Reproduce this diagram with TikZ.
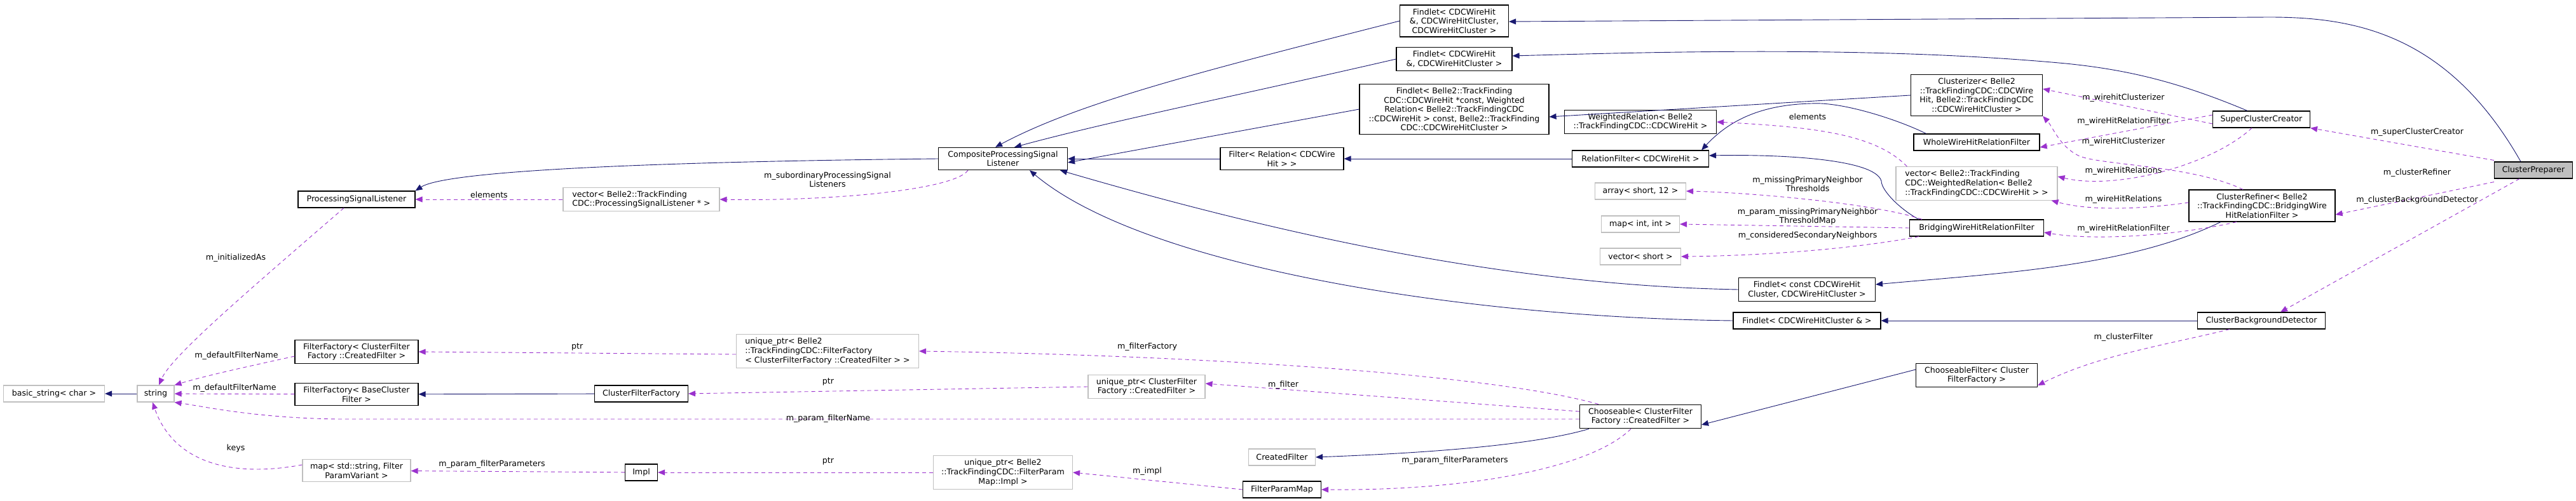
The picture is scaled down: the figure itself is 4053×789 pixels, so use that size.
\documentclass[tikz,border=0pt]{standalone}
\usepackage{fontspec}
\setmainfont{DejaVu Sans}
\usetikzlibrary{arrows.meta, positioning}
\definecolor{edgeblue}{HTML}{191970}
\definecolor{edgepurple}{HTML}{9A32CD}
\definecolor{boxgray}{HTML}{BFBFBF}
\tikzset{%
    clssty/.style={
        draw,
        line width=1.1pt,
        align=center,
        inner xsep=2pt,
        inner ysep=5.5pt,
        minimum height=26pt,
        font=\fontsize{12.6}{14.6}\selectfont,
    },
    extsty/.style={
        clssty,
        draw=boxgray,
    },
    lblsty/.style={
        align=center,
        inner sep=1pt,
        font=\fontsize{12.6}{14.6}\selectfont,
    },
    inhsty/.style={
        draw=edgeblue,
        line width=0.9pt,
        -{Triangle[length=11pt,width=9pt]},
    },
    usesty/.style={
        draw=edgepurple,
        line width=0.9pt,
        dash pattern=on 6pt off 5pt,
        -{Triangle[length=11pt,width=9pt]},
    },
}

\begin{document}
\begin{tikzpicture}[x=1pt,y=-1pt]
\useasboundingbox (0,0) rectangle (4053,789);

% classes on the left
\node (bstr) [extsty,minimum width=159pt] at (85,620) {basic\_string< char >};
\node (str) [extsty,minimum width=58pt] at (245,620) {string};
\node (psl) [clssty,minimum width=184pt] at (561,314) {ProcessingSignalListener};
\node (vpsl) [extsty,minimum width=246pt,align=left] at (1009,314) {vector< Belle2::TrackFinding\\CDC::ProcessingSignalListener * >};
\node (ffc) [clssty,minimum width=194pt] at (561,554) {FilterFactory< ClusterFilter\\Factory ::CreatedFilter >};
\node (ffb) [clssty,minimum width=194pt] at (561,621) {FilterFactory< BaseCluster\\Filter >};
\node (cff) [clssty,minimum width=147pt] at (1009,620) {ClusterFilterFactory};
\node (mapstr) [extsty,minimum width=170pt] at (561,741) {map< std::string, Filter\\ParamVariant >};
\node (impl) [clssty,minimum width=51pt] at (1009,744) {Impl};

% middle
\node (comp) [clssty,minimum width=203pt] at (1578,250) {CompositeProcessingSignal\\Listener};
\node (frel) [clssty,minimum width=194pt] at (2017,250) {Filter< Relation< CDCWire\\Hit > >};
\node (uff) [extsty,minimum width=287pt,align=left] at (1302,553) {unique\_ptr< Belle2\\::TrackFindingCDC::FilterFactory\\< ClusterFilterFactory ::CreatedFilter > >};
\node (ucf) [extsty,minimum width=184pt] at (1804,609) {unique\_ptr< ClusterFilter\\Factory ::CreatedFilter >};
\node (crf) [extsty,minimum width=105pt] at (2017,720) {CreatedFilter};
\node (uimpl) [extsty,minimum width=219pt] at (1578,744) {unique\_ptr< Belle2\\::TrackFindingCDC::FilterParam\\Map::Impl >};
\node (fpm) [clssty,minimum width=123pt] at (2017,771) {FilterParamMap};

\node (fa) [clssty,minimum width=171pt] at (2288,33) {Findlet< CDCWireHit\\\&, CDCWireHitCluster,\\CDCWireHitCluster >};
\node (fb) [clssty,minimum width=182pt] at (2288,93) {Findlet< CDCWireHit\\\&, CDCWireHitCluster >};
\node (fc) [clssty,minimum width=298pt] at (2288,172) {Findlet< Belle2::TrackFinding\\CDC::CDCWireHit *const, Weighted\\Relation< Belle2::TrackFindingCDC\\::CDCWireHit > const, Belle2::TrackFinding\\CDC::CDCWireHitCluster >};
\node (wrel) [clssty,minimum width=239pt] at (2581,192) {WeightedRelation< Belle2\\::TrackFindingCDC::CDCWireHit >};
\node (rfil) [clssty,minimum width=215pt] at (2581,250) {RelationFilter< CDCWireHit >};
\node (arr) [extsty,minimum width=143pt] at (2581,301) {array< short, 12 >};
\node (mint) [extsty,minimum width=123pt] at (2581,353) {map< int, int >};
\node (vsh) [extsty,minimum width=127pt] at (2581,404) {vector< short >};
\node (fd) [clssty,minimum width=215pt] at (2843,456) {Findlet< const CDCWireHit\\Cluster, CDCWireHitCluster >};
\node (fe) [clssty,minimum width=232pt] at (2843,505) {Findlet< CDCWireHitCluster \& >};
\node (choo) [clssty,minimum width=191pt] at (2581,656) {Chooseable< ClusterFilter\\Factory ::CreatedFilter >};

% right
\node (clz) [clssty,minimum width=207pt] at (3110,150) {Clusterizer< Belle2\\::TrackFindingCDC::CDCWire\\Hit, Belle2::TrackFindingCDC\\::CDCWireHitCluster >};
\node (wwh) [clssty,minimum width=198pt] at (3110,224) {WholeWireHitRelationFilter};
\node (vwr) [extsty,minimum width=254pt,align=left] at (3110,289) {vector< Belle2::TrackFinding\\CDC::WeightedRelation< Belle2\\::TrackFindingCDC::CDCWireHit > >};
\node (bwh) [clssty,minimum width=211pt] at (3110,359) {BridgingWireHitRelationFilter};
\node (cflt) [clssty,minimum width=191pt] at (3110,591) {ChooseableFilter< Cluster\\FilterFactory >};
\node (scc) [clssty,minimum width=153pt] at (3558,188) {SuperClusterCreator};
\node (cref) [clssty,minimum width=230pt] at (3559,324) {ClusterRefiner< Belle2\\::TrackFindingCDC::BridgingWire\\HitRelationFilter >};
\node (cbd) [clssty,minimum width=201pt] at (3558,505) {ClusterBackgroundDetector};
\node (cprep) [clssty,minimum width=123pt,fill=boxgray] at (3986,268) {ClusterPreparer};

% inheritance
\draw [inhsty] (str) -- (bstr);
\draw [inhsty] (comp.west) .. controls (1000,255) and (700,270) .. (psl.north east);
\draw [inhsty] (fa.west) .. controls (1900,110) and (1700,160) .. ([xshift=-12pt]comp.north);
\draw [inhsty] (fb.west) .. controls (1950,150) and (1750,190) .. ([xshift=18pt]comp.north);
\draw [inhsty] (fc.west) -- ([yshift=-6pt]comp.east);
\draw [inhsty] (frel) -- (comp);
\draw [inhsty] (fd.west) .. controls (2400,450) and (2050,380) .. ([xshift=-12pt]comp.south east);
\draw [inhsty] (fe.west) .. controls (2300,500) and (1800,420) .. ([xshift=42pt]comp.south);
\draw [inhsty] (rfil) -- (frel);
\draw [inhsty] ([xshift=20pt]wwh.north west) .. controls (2990,190) and (2900,160) .. (2850,163) .. controls (2770,165) and (2720,190) .. ([xshift=-12pt]rfil.north east);
\draw [inhsty] ([xshift=15pt]bwh.north west) .. controls (2990,330) and (2960,300) .. (2960,285) .. controls (2950,250) and (2800,243) .. ([yshift=5pt]rfil.east);
\draw [inhsty] ([xshift=-22pt]scc.north) .. controls (3430,130) and (3350,110) .. (3250,100) .. controls (2950,72) and (2600,82) .. ([yshift=5pt]fb.east);
\draw [inhsty] ([xshift=-20pt]cprep.north) .. controls (3850,50) and (3700,27) .. (3570,27) -- ([yshift=-1pt]fa.east);
\draw [inhsty] (clz.west) -- ([yshift=-12pt]fc.east);
\draw [inhsty] ([xshift=-65pt]cref.south) .. controls (3350,420) and (3150,430) .. ([yshift=8pt]fd.east);
\draw [inhsty] (cbd) -- (fe);
\draw [inhsty] ([yshift=9pt]cflt.west) -- ([yshift=-13pt]choo.east);
\draw [inhsty] ([xshift=15pt]choo.south west) .. controls (2400,705) and (2200,715) .. (crf.east);
\draw [inhsty] (cff) -- (ffb);

% usage
\draw [usesty] (vpsl) -- node[lblsty,above=1pt] (l1) {elements} (psl);
\draw [usesty] ([xshift=-55pt]comp.south) .. controls (1500,300) and (1300,317) .. (vpsl.east);
\node (l2) [lblsty] at (1302,283) {m\_subordinaryProcessingSignal\\Listeners};
\draw [usesty] ([xshift=-20pt]psl.south) .. controls (400,450) and (270,560) .. ([xshift=5pt]str.north);
\node (l3) [lblsty] at (371,406) {m\_initializedAs};
\draw [usesty] ([yshift=-7pt]ffc.west) .. controls (400,575) and (330,590) .. (str.north east);
\node (l4) [lblsty] at (372,560) {m\_defaultFilterName};
\draw [usesty] (ffb) -- node[lblsty,above=1pt] (l5) {m\_defaultFilterName} (str);
\draw [usesty] ([yshift=-4pt]choo.west) -- (900,660) -- (530,660) .. controls (400,658) and (320,640) .. (str.south east);
\node (l6) [lblsty] at (1303,659) {m\_param\_filterName};
\draw [usesty] ([yshift=9pt]mapstr.west) .. controls (350,755) and (270,720) .. ([xshift=-5pt]str.south);
\node (l7) [lblsty] at (371,706) {keys};
\draw [usesty] ([yshift=-5pt]uff.west) -- node[lblsty,above=2pt] (l8) {ptr} (ffc.east);
\draw [usesty] (ucf.west) -- (cff.east);
\node (l9) [lblsty] at (1303,601) {ptr};
\draw [usesty] ([xshift=30pt]choo.north west) .. controls (2350,590) and (1900,560) .. (uff.east);
\node (l10) [lblsty] at (1805,546) {m\_filterFactory};
\draw [usesty] ([yshift=8pt]choo.west) -- ([yshift=5pt]ucf.east);
\node (l11) [lblsty] at (2019,606) {m\_filter};
\draw [usesty] (impl) -- (mapstr);
\node (l12) [lblsty] at (774,731) {m\_param\_filterParameters};
\draw [usesty] (uimpl.west) -- (impl);
\node (l13) [lblsty] at (1303,726) {ptr};
\draw [usesty] (fpm.west) -- (uimpl.east);
\node (l14) [lblsty] at (1805,742) {m\_impl};
\draw [usesty] ([xshift=-15pt]choo.south) .. controls (2500,740) and (2300,773) .. (fpm.east);
\node (l15) [lblsty] at (2289,725) {m\_param\_filterParameters};
\draw [usesty] ([xshift=18pt]vwr.north west) .. controls (2950,210) and (2850,200) .. (wrel.east);
\node (l16) [lblsty] at (2844,184) {elements};
\draw [usesty] ([xshift=20pt]bwh.north west) .. controls (2950,320) and (2750,303) .. (arr.east);
\node (l17) [lblsty] at (2844,290) {m\_missingPrimaryNeighbor\\Thresholds};
\draw [usesty] (bwh.west) -- (mint.east);
\node (l18) [lblsty] at (2844,341) {m\_param\_missingPrimaryNeighbor\\ThresholdMap};
\draw [usesty] ([xshift=15pt]bwh.south west) .. controls (2900,395) and (2750,403) .. (vsh.east);
\node (l19) [lblsty] at (2844,371) {m\_consideredSecondaryNeighbors};
\draw [usesty] ([yshift=-7pt]scc.west) -- ([yshift=10pt]clz.east);
\node (l20) [lblsty] at (3341,154) {m\_wirehitClusterizer};
\draw [usesty] ([yshift=7pt]scc.west) -- ([yshift=-8pt]wwh.east);
\node (l21) [lblsty] at (3341,191) {m\_wireHitRelationFilter};
\draw [usesty] ([xshift=-15pt]scc.south) .. controls (3480,260) and (3330,300) .. ([yshift=11pt]vwr.east);
\node (l22) [lblsty] at (3341,269) {m\_wireHitRelations};
\draw [usesty] ([xshift=-30pt]cref.north) .. controls (3450,260) and (3300,260) .. (3270,245) .. controls (3240,230) and (3230,200) .. (clz.south east);
\node (l23) [lblsty] at (3341,223) {m\_wireHitClusterizer};
\draw [usesty] ([yshift=5pt]cref.west) .. controls (3350,332) and (3280,330) .. ([xshift=-10pt]vwr.south east);
\node (l24) [lblsty] at (3341,314) {m\_wireHitRelations};
\draw [usesty] ([xshift=-40pt]cref.south) .. controls (3430,370) and (3300,380) .. ([yshift=-7pt]bwh.east);
\node (l25) [lblsty] at (3341,360) {m\_wireHitRelationFilter};
\draw [usesty] ([yshift=2pt]cprep.north west) -- (scc.south east);
\node (l26) [lblsty] at (3803,208) {m\_superClusterCreator};
\draw [usesty] ([yshift=-5pt]cprep.south west) -- ([yshift=-14pt]cref.east);
\node (l27) [lblsty] at (3803,272) {m\_clusterRefiner};
\draw [usesty] ([xshift=-22pt]cprep.south) -- ([xshift=30pt]cbd.north);
\node (l28) [lblsty] at (3803,315) {m\_clusterBackgroundDetector};
\draw [usesty] ([xshift=-50pt]cbd.south) .. controls (3400,545) and (3300,560) .. ([yshift=-16pt]cflt.east);
\node (l29) [lblsty] at (3341,531) {m\_clusterFilter};

\end{tikzpicture}
\end{document}
